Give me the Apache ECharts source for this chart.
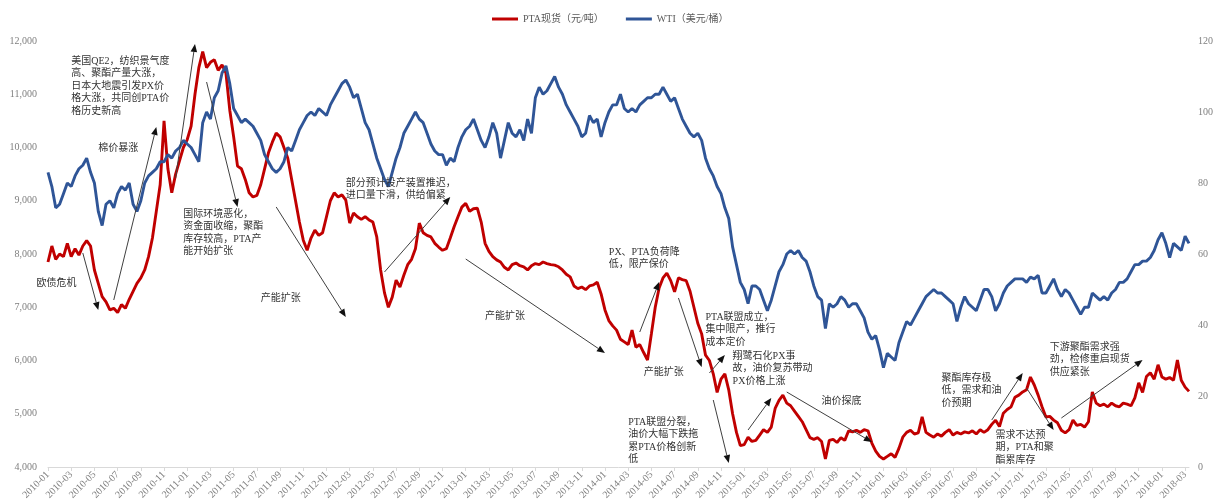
<!DOCTYPE html>
<html>
<head>
<meta charset="utf-8">
<script src="https://cdn.jsdelivr.net/npm/echarts@6/dist/echarts.min.js"></script>
<style>
  html, body { margin: 0; padding: 0; background: #ffffff; }
  #chart { width: 1220px; height: 504px; }
</style>
</head>
<body>
<div id="chart"></div>
<script>
// PTA spot price (CNY/ton), three readings per month (1st, 11th, 21st)
const pta2010 = [7850, 8150, 7900, 8000, 7950, 8200, 7950, 8100, 7980, 8150, 8250, 8150,
                 7700, 7450, 7200, 7100, 6950, 6980, 6900, 7050, 6980, 7150, 7300, 7450,
                 7550, 7700, 7950, 8300, 8800, 9300, 10500, 9600, 9150, 9500, 9750, 10000];
const pta2011 = [10150, 10400, 11000, 11500, 11800, 11500, 11600, 11650, 11450, 11550, 11400, 10700,
                 10200, 9650, 9600, 9400, 9150, 9070, 9100, 9300, 9600, 9900, 10100, 10270,
                 10200, 10000, 9800, 9400, 9000, 8600, 8260, 8070, 8300, 8450, 8350, 8400];
const pta2012 = [8700, 9000, 9150, 9070, 9110, 9010, 8580, 8770, 8700, 8650, 8700, 8640,
                 8600, 8320, 7700, 7270, 7000, 7190, 7510, 7380, 7600, 7800, 7900, 8100,
                 8580, 8400, 8350, 8320, 8200, 8130, 8070, 8100, 8300, 8510, 8700, 8880];
const pta2013 = [8950, 8800, 8850, 8860, 8600, 8200, 8050, 7950, 7890, 7850, 7750, 7700,
                 7800, 7830, 7780, 7760, 7700, 7780, 7820, 7800, 7850, 7820, 7800, 7790,
                 7760, 7700, 7620, 7570, 7400, 7350, 7380, 7330, 7400, 7420, 7470, 7250];
const pta2014 = [6950, 6750, 6650, 6570, 6400, 6350, 6300, 6570, 6250, 6300, 6150, 6010,
                 6500, 7000, 7360, 7550, 7640, 7500, 7290, 7550, 7520, 7500, 7300, 7000,
                 6700, 6500, 6100, 6000, 5750, 5400, 5650, 5750, 5450, 5000, 4650, 4400];
const pta2015 = [4420, 4560, 4480, 4500, 4600, 4700, 4650, 4750, 5100, 5250, 5350, 5200,
                 5150, 5050, 4950, 4850, 4700, 4550, 4520, 4550, 4480, 4150, 4500, 4520,
                 4460, 4550, 4500, 4680, 4660, 4690, 4650, 4700, 4680, 4450, 4300, 4200];
const pta2016 = [4150, 4200, 4250, 4180, 4350, 4560, 4650, 4690, 4620, 4640, 4940, 4650,
                 4600, 4560, 4620, 4580, 4650, 4700, 4600, 4650, 4620, 4660, 4640, 4680,
                 4620, 4700, 4650, 4700, 4800, 4880, 4760, 5010, 5080, 5130, 5310, 5350];
const pta2017 = [5410, 5450, 5690, 5540, 5350, 5130, 4940, 4950, 4880, 4830, 4690, 4640,
                 4700, 4880, 4780, 4800, 4750, 4850, 5410, 5200, 5150, 5180, 5130, 5200,
                 5150, 5130, 5200, 5180, 5150, 5300, 5580, 5400, 5700, 5770, 5650, 5920];
const pta2018 = [5690, 5650, 5680, 5630, 6010, 5630, 5500, 5420];

// WTI crude (USD/barrel), same sampling
const wti2010 = [83, 79, 73, 74, 77, 80, 79, 82, 84, 85, 87, 83,
                 80, 72, 68, 74, 75, 73, 77, 79, 78, 80, 74, 72,
                 75, 80, 82, 83, 84, 86, 86, 88, 87, 89, 90, 92];
const wti2011 = [91, 90, 88, 86, 97, 100, 98, 104, 106, 111, 113, 108,
                 101, 99, 97, 98, 97, 96, 94, 92, 88, 86, 84, 83,
                 84, 86, 90, 89, 92, 95, 97, 99, 100, 99, 101, 100];
const wti2012 = [99, 102, 104, 106, 108, 109, 107, 104, 105, 101, 97, 95,
                 91, 87, 84, 81, 79, 83, 87, 90, 94, 96, 98, 100,
                 98, 97, 94, 91, 89, 88, 88, 85, 87, 86, 90, 93];
const wti2013 = [95, 96, 98, 95, 92, 90, 93, 97, 94, 87, 92, 97,
                 94, 93, 95, 92, 98, 94, 104, 107, 105, 106, 108, 110,
                 107, 105, 102, 100, 98, 96, 93, 94, 99, 97, 98, 93];
const wti2014 = [97, 100, 102, 102, 105, 101, 100, 101, 100, 102, 103, 104,
                 104, 105, 105, 107, 105, 103, 104, 101, 98, 96, 94, 93,
                 94, 92, 87, 84, 82, 79, 77, 73, 70, 62, 57, 52];
const wti2015 = [50, 46, 51, 51, 50, 47, 44, 47, 51, 55, 57, 60,
                 61, 60, 61, 59, 58, 55, 51, 48, 47, 39, 46, 45,
                 46, 48, 47, 45, 46, 46, 44, 42, 38, 36, 37, 33];
const wti2016 = [28, 32, 31, 30, 35, 38, 41, 40, 42, 44, 46, 48,
                 49, 50, 49, 49, 48, 47, 46, 41, 45, 48, 46, 45,
                 44, 47, 50, 50, 48, 44, 46, 49, 51, 52, 53, 53];
const wti2017 = [53, 52, 53.5, 53, 54, 49, 49, 51, 53, 50, 48, 50,
                 49, 47, 45, 43, 45, 45, 49, 48, 47, 48, 47, 49,
                 50, 52, 52, 53, 55, 57, 57, 58, 58, 59, 61, 64];
const wti2018 = [66, 63, 59, 63, 62, 61, 65, 63];

const ptaSpot = [].concat(pta2010, pta2011, pta2012, pta2013, pta2014, pta2015, pta2016, pta2017, pta2018);
const wtiPrice = [].concat(wti2010, wti2011, wti2012, wti2013, wti2014, wti2015, wti2016, wti2017, wti2018);

// Category dates: 1st, 11th and 21st of each month from 2010-01
const categories = [];
for (let y = 2010; y <= 2018; y++) {
  for (let m = 1; m <= 12; m++) {
    for (const d of ['01', '11', '21']) {
      if (categories.length < ptaSpot.length) {
        categories.push(y + '-' + (m < 10 ? '0' + m : m) + '-' + d);
      }
    }
  }
}

const leftTicks = { min: 4000, max: 12000, step: 1000 };
const rightTicks = { min: 0, max: 120, step: 20 };
const seriesNames = ['PTA现货（元/吨）', 'WTI（美元/桶）'];

// Notes anchored on [category index, PTA price]
const notes = [
  { at: [-2.8, 7455], lines: ['欧债危机'] },
  { at: [12.7, 9990], lines: ['棉价暴涨'] },
  { at: [6.2, 11624], lines: ['美国QE2，纺织景气度', '高、聚酯产量大涨，', '日本大地震引发PX价', '格大涨，共同创PTA价', '格历史新高'] },
  { at: [35.4, 8751], lines: ['国际环境恶化，', '资金面收缩，聚酯', '库存较高，PTA产', '能开始扩张'] },
  { at: [55.3, 7174], lines: ['产能扩张'] },
  { at: [76.8, 9333], lines: ['部分预计投产装置推迟，', '进口量下滑，供给偏紧'] },
  { at: [112.5, 6836], lines: ['产能扩张'] },
  { at: [144.8, 8037], lines: ['PX、PTA负荷降', '低，限产保价'] },
  { at: [153.9, 5784], lines: ['产能扩张'] },
  { at: [170.4, 6817], lines: ['PTA联盟成立，', '集中限产，推行', '成本定价'] },
  { at: [177.1, 6084], lines: ['翔鹭石化PX事', '故，油价复苏带动', 'PX价格上涨'] },
  { at: [150.0, 4845], lines: ['PTA联盟分裂，', '油价大幅下跌拖', '累PTA价格创新', '低'] },
  { at: [200.2, 5239], lines: ['油价探底'] },
  { at: [231.2, 5671], lines: ['聚酯库存极', '低，需求和油', '价预期'] },
  { at: [245.4, 4601], lines: ['需求不达预', '期，PTA和聚', '酯累库存'] },
  { at: [258.6, 6253], lines: ['下游聚酯需求强', '劲，检修重启现货', '供应紧张'] }
];

// Trend arrows: [from, to] on [category index, PTA price]
const trendArrows = [
  [[8.8, 8019], [13.4, 6948]],
  [[16.6, 7136], [27.7, 10385]],
  [[33.4, 9427], [38.0, 11944]],
  [[41.1, 11230], [49.1, 8883]],
  [[58.7, 8883], [77.1, 6817]],
  [[87.4, 7662], [104.2, 9070]],
  [[107.6, 7906], [144.0, 6141]],
  [[153.1, 6535], [157.7, 7474]],
  [[162.7, 7174], [169.1, 5878]],
  [[171.2, 5765], [174.6, 6103]],
  [[172.2, 5258], [175.6, 4075]],
  [[180.8, 4695], [187.2, 5295]],
  [[190.6, 5408], [213.1, 4469]],
  [[244.4, 4882], [252.1, 5765]],
  [[253.4, 5483], [259.9, 4695]],
  [[261.7, 4920], [282.9, 6009]]
];

const serif = '"Liberation Serif", "Times New Roman", "Noto Sans CJK SC", serif';
const cjk = '"Liberation Serif", "Noto Sans CJK SC", serif';
const axisGrey = '#7f7f7f';

const chart = echarts.init(document.getElementById('chart'), null, { renderer: 'canvas' });

chart.setOption({
  animation: false,
  backgroundColor: '#ffffff',
  grid: { left: 48, right: 31, top: 41, bottom: 37, containLabel: false },
  legend: {
    left: 487, top: 9,
    icon: 'rect', itemWidth: 26, itemHeight: 3, itemGap: 22,
    textStyle: { fontFamily: cjk, fontSize: 10, color: '#595959' },
    data: seriesNames
  },
  xAxis: {
    type: 'category',
    data: categories,
    boundaryGap: false,
    axisLine: { lineStyle: { color: '#d9d9d9', width: 1 } },
    axisTick: { show: true, length: 4, interval: (i) => i % 6 === 0, lineStyle: { color: '#d9d9d9' } },
    axisLabel: {
      interval: (i) => i % 6 === 0,
      formatter: (v) => v.slice(0, 7),
      rotate: 45, margin: 6,
      fontFamily: serif, fontSize: 10, color: axisGrey
    },
    splitLine: { show: false }
  },
  yAxis: [
    {
      type: 'value',
      min: leftTicks.min, max: leftTicks.max, interval: leftTicks.step,
      axisLine: { show: false }, axisTick: { show: false }, splitLine: { show: false },
      axisLabel: {
        margin: 11,
        fontFamily: serif, fontSize: 10, color: axisGrey,
        formatter: (v) => v.toLocaleString('en-US')
      }
    },
    {
      type: 'value',
      min: rightTicks.min, max: rightTicks.max, interval: rightTicks.step,
      axisLine: { show: false }, axisTick: { show: false }, splitLine: { show: false },
      axisLabel: { margin: 9, fontFamily: serif, fontSize: 10, color: axisGrey }
    }
  ],
  series: [
    {
      name: seriesNames[0], type: 'line', yAxisIndex: 0,
      data: ptaSpot, symbol: 'none', z: 2,
      lineStyle: { color: '#c00000', width: 2.9 },
      itemStyle: { color: '#c00000' }
    },
    {
      name: seriesNames[1], type: 'line', yAxisIndex: 1,
      data: wtiPrice, symbol: 'none', z: 3,
      lineStyle: { color: '#2f5597', width: 2.9 },
      itemStyle: { color: '#2f5597' }
    }
  ]
});

// Place notes and arrows through the axes' own coordinate conversion
const toPx = (p) => chart.convertToPixel({ xAxisIndex: 0, yAxisIndex: 0 }, p);
const graphics = [];
const lineH = 12.5;
notes.forEach((n) => {
  const p = toPx(n.at);
  graphics.push({
    type: 'text', z: 10, silent: true,
    style: {
      text: n.lines.join('\n'),
      x: p[0], y: p[1] - lineH / 2,
      fill: '#333333',
      font: '10px ' + cjk,
      lineHeight: lineH,
      align: 'left', verticalAlign: 'top'
    }
  });
});
trendArrows.forEach((a) => {
  const p0 = toPx(a[0]);
  const p1 = toPx(a[1]);
  const dx = p1[0] - p0[0], dy = p1[1] - p0[1];
  const len = Math.hypot(dx, dy);
  const ux = dx / len, uy = dy / len;
  const hl = 8, hw = 3.3;
  const bx = p1[0] - ux * hl, by = p1[1] - uy * hl;
  graphics.push({
    type: 'line', z: 10, silent: true,
    shape: { x1: p0[0], y1: p0[1], x2: bx, y2: by },
    style: { stroke: '#404040', lineWidth: 1 }
  });
  graphics.push({
    type: 'polygon', z: 10, silent: true,
    shape: { points: [[p1[0], p1[1]], [bx - uy * hw, by + ux * hw], [bx + uy * hw, by - ux * hw]] },
    style: { fill: '#111111' }
  });
});
chart.setOption({ graphic: graphics });
</script>
</body>
</html>
